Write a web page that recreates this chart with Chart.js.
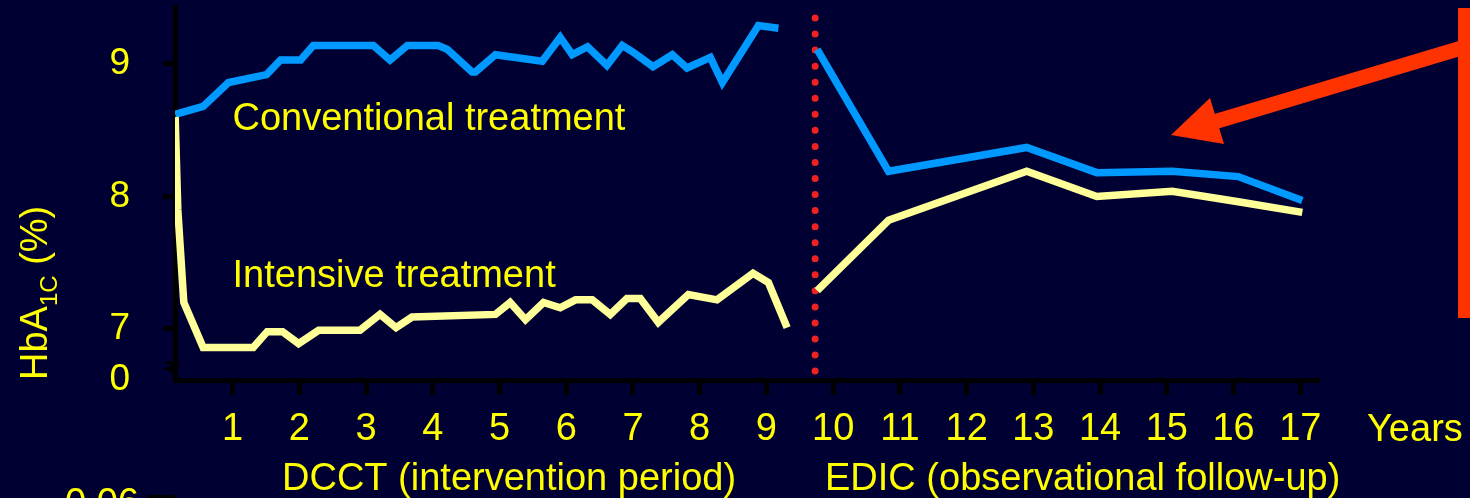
<!DOCTYPE html>
<html>
<head>
<meta charset="utf-8">
<script src="https://cdn.jsdelivr.net/npm/chart.js@4.4.1/dist/chart.umd.min.js"></script>
<style>
  html, body { margin: 0; padding: 0; background: #000033; overflow: hidden; }
  #wrap { position: relative; width: 1470px; height: 498px; }
</style>
</head>
<body>
<div id="wrap"><canvas id="c"></canvas></div>
<script>
// Year tick labels on the x axis and HbA1c ticks on the y axis
const yearTicks = [1, 2, 3, 4, 5, 6, 7, 8, 9, 10, 11, 12, 13, 14, 15, 16, 17];
const hba1cTicks = [7, 8, 9];
const hba1cFloor = 6.615;          // bottom of the broken y axis, labelled "0"
const hba1cFloorLabel = '0';

// DCCT (intervention period) – conventional treatment
const dcctConvYears = [0.14, 0.56, 0.94, 1.51, 1.72, 2.02, 2.21, 3.11, 3.36, 3.62, 4.08, 4.22, 4.59, 4.64, 4.94,
                       5.64, 5.91, 6.09, 6.32, 6.61, 6.84, 7.00, 7.30, 7.59, 7.81, 8.16, 8.34, 8.88, 9.18];
const dcctConvHbA1c = [8.62, 8.68, 8.86, 8.92, 9.03, 9.03, 9.14, 9.14, 9.03, 9.14, 9.14, 9.11, 8.94, 8.94, 9.07,
                       9.02, 9.20, 9.07, 9.13, 8.99, 9.14, 9.09, 8.98, 9.07, 8.97, 9.05, 8.86, 9.29, 9.27];

// DCCT (intervention period) – intensive treatment
const dcctIntYears = [0.14, 0.18, 0.27, 0.56, 1.31, 1.52, 1.75, 1.99, 2.29, 2.91, 3.21, 3.45, 3.69, 4.94, 5.16,
                      5.39, 5.66, 5.91, 6.14, 6.39, 6.66, 6.91, 7.11, 7.38, 7.83, 8.26, 8.80, 9.03, 9.31];
const dcctIntHbA1c = [8.60, 7.90, 7.20, 6.86, 6.86, 6.98, 6.98, 6.89, 6.99, 6.99, 7.11, 7.01, 7.09, 7.11, 7.20,
                      7.07, 7.20, 7.16, 7.22, 7.22, 7.11, 7.23, 7.23, 7.05, 7.26, 7.22, 7.42, 7.35, 7.01];

// EDIC (observational follow-up)
const edicYears = [9.76, 10.83, 12.90, 13.95, 15.08, 16.07, 17.03];
const edicConvHbA1c = [9.11, 8.19, 8.37, 8.18, 8.19, 8.15, 7.97];
const edicIntHbA1c = [7.29, 7.82, 8.19, 8.00, 8.04, 7.96, 7.88];

// End of DCCT / start of EDIC marker
const edicStartYear = 9.73;
const markerTop = 9.347;
const markerBottom = 6.675;

const BLUE = '#0099FF';
const PALE_YELLOW = '#FFFF99';
const TEXT_YELLOW = '#FFFF00';
const BG = '#000033';
const FONT = '"Liberation Sans", Arial, sans-serif';

const pts = (xs, ys) => xs.map((x, i) => ({ x: x, y: ys[i] }));

const lineStyle = (color) => ({
  borderColor: color,
  backgroundColor: color,
  borderWidth: 7.5,
  showLine: true,
  pointRadius: 0,
  tension: 0,
  borderJoinStyle: 'miter',
  borderCapStyle: 'butt'
});

const background = {
  id: 'background',
  beforeDraw(chart) {
    const c = chart.ctx;
    c.save();
    c.fillStyle = BG;
    c.fillRect(0, 0, chart.width, chart.height);
    c.restore();
  }
};

const decorations = {
  id: 'decorations',
  afterDraw(chart) {
    const c = chart.ctx;
    const xs = chart.scales.x;
    c.save();

    // series labels
    c.fillStyle = TEXT_YELLOW;
    c.textBaseline = 'alphabetic';
    c.textAlign = 'left';
    c.font = '38px ' + FONT;
    const labelX = xs.getPixelForValue(1);
    c.fillText('Conventional treatment', labelX, 130);
    c.fillText('Intensive treatment', labelX, 287);

    // period captions and unit
    c.fillText('DCCT (intervention period)', 282, 490);
    c.fillText('EDIC (observational follow-up)', 825, 490);
    c.fillText('Years', 1367, 441);

    // partially visible next-panel label at the bottom edge
    c.fillText('0.06', 65, 515);
    c.fillStyle = '#000';
    c.fillRect(147, 495, 28, 4);

    // y-axis title: HbA1C (%)
    c.save();
    c.translate(47, 380);
    c.rotate(-Math.PI / 2);
    c.fillStyle = TEXT_YELLOW;
    c.font = '38px ' + FONT;
    c.fillText('HbA', 0, 0);
    let w = c.measureText('HbA').width;
    c.font = '24px ' + FONT;
    c.fillText('1C', w, 10);
    w += c.measureText('1C').width;
    c.font = '38px ' + FONT;
    c.fillText(' (%)', w, 0);
    c.restore();

    // axis break mark
    c.strokeStyle = '#000';
    c.lineWidth = 3;
    c.beginPath();
    c.moveTo(166, 362);
    c.lineTo(177, 365);
    c.lineTo(167, 369);
    c.lineTo(177, 373);
    c.stroke();

    // orange-red callout: vertical bar and arrow
    const RED = '#FF3300';
    c.fillStyle = RED;
    c.fillRect(1458, 8, 14, 310);
    c.strokeStyle = RED;
    c.lineWidth = 15;
    c.lineCap = 'butt';
    c.beginPath();
    c.moveTo(1470, 45.5);
    c.lineTo(1214, 122);
    c.stroke();
    c.beginPath();
    c.moveTo(1171, 135);
    c.lineTo(1210, 98);
    c.lineTo(1224, 144);
    c.closePath();
    c.fill();

    c.restore();
  }
};

new Chart(document.getElementById('c'), {
  type: 'scatter',
  data: {
    datasets: [
      Object.assign({ label: 'Intensive (DCCT)', data: pts(dcctIntYears, dcctIntHbA1c) }, lineStyle(PALE_YELLOW)),
      Object.assign({ label: 'Conventional (DCCT)', data: pts(dcctConvYears, dcctConvHbA1c) }, lineStyle(BLUE)),
      Object.assign({ label: 'Intensive (EDIC)', data: pts(edicYears, edicIntHbA1c) }, lineStyle(PALE_YELLOW)),
      Object.assign({ label: 'Conventional (EDIC)', data: pts(edicYears, edicConvHbA1c) }, lineStyle(BLUE)),
      {
        label: 'EDIC start',
        data: [{ x: edicStartYear, y: markerTop }, { x: edicStartYear, y: markerBottom }],
        showLine: true,
        pointRadius: 0,
        borderColor: '#EE2222',
        borderWidth: 7,
        borderDash: [0, 16.05],
        borderCapStyle: 'round',
        clip: false
      }
    ]
  },
  options: {
    responsive: true,
    maintainAspectRatio: false,
    animation: false,
    events: [],
    layout: { padding: { left: 0, right: 153, top: 7, bottom: 0 } },
    plugins: { legend: { display: false }, tooltip: { enabled: false } },
    scales: {
      x: {
        type: 'linear',
        min: 0.138,
        max: 17.25,
        afterFit(scale) {
          scale.height = 118;
          scale.paddingLeft = 0;
          scale.paddingRight = 0;
        },
        afterBuildTicks(scale) { scale.ticks = yearTicks.map(v => ({ value: v })); },
        ticks: {
          color: TEXT_YELLOW,
          font: { family: FONT, size: 38 },
          padding: 12,
          autoSkip: false,
          maxRotation: 0,
          callback: (v) => String(v)
        },
        grid: { drawOnChartArea: false, tickLength: 15, color: '#000', lineWidth: 5 },
        border: { color: '#000', width: 5 }
      },
      y: {
        type: 'linear',
        min: hba1cFloor,
        max: 9.43,
        afterFit(scale) {
          scale.width = 175;
          scale.paddingTop = 0;
          scale.paddingBottom = 0;
        },
        afterBuildTicks(scale) {
          scale.ticks = [hba1cFloor].concat(hba1cTicks).map(v => ({ value: v }));
        },
        ticks: {
          color: TEXT_YELLOW,
          font: { family: FONT, size: 37 },
          padding: 33,
          callback: (v) => (v === hba1cFloor ? hba1cFloorLabel : String(v))
        },
        grid: {
          drawOnChartArea: false,
          tickLength: 12,
          lineWidth: 5,
          color: (ctx) => (ctx.tick && ctx.tick.value === hba1cFloor ? 'rgba(0,0,0,0)' : '#000')
        },
        border: { color: '#000', width: 5 }
      }
    }
  },
  plugins: [background, decorations]
});
</script>
</body>
</html>
